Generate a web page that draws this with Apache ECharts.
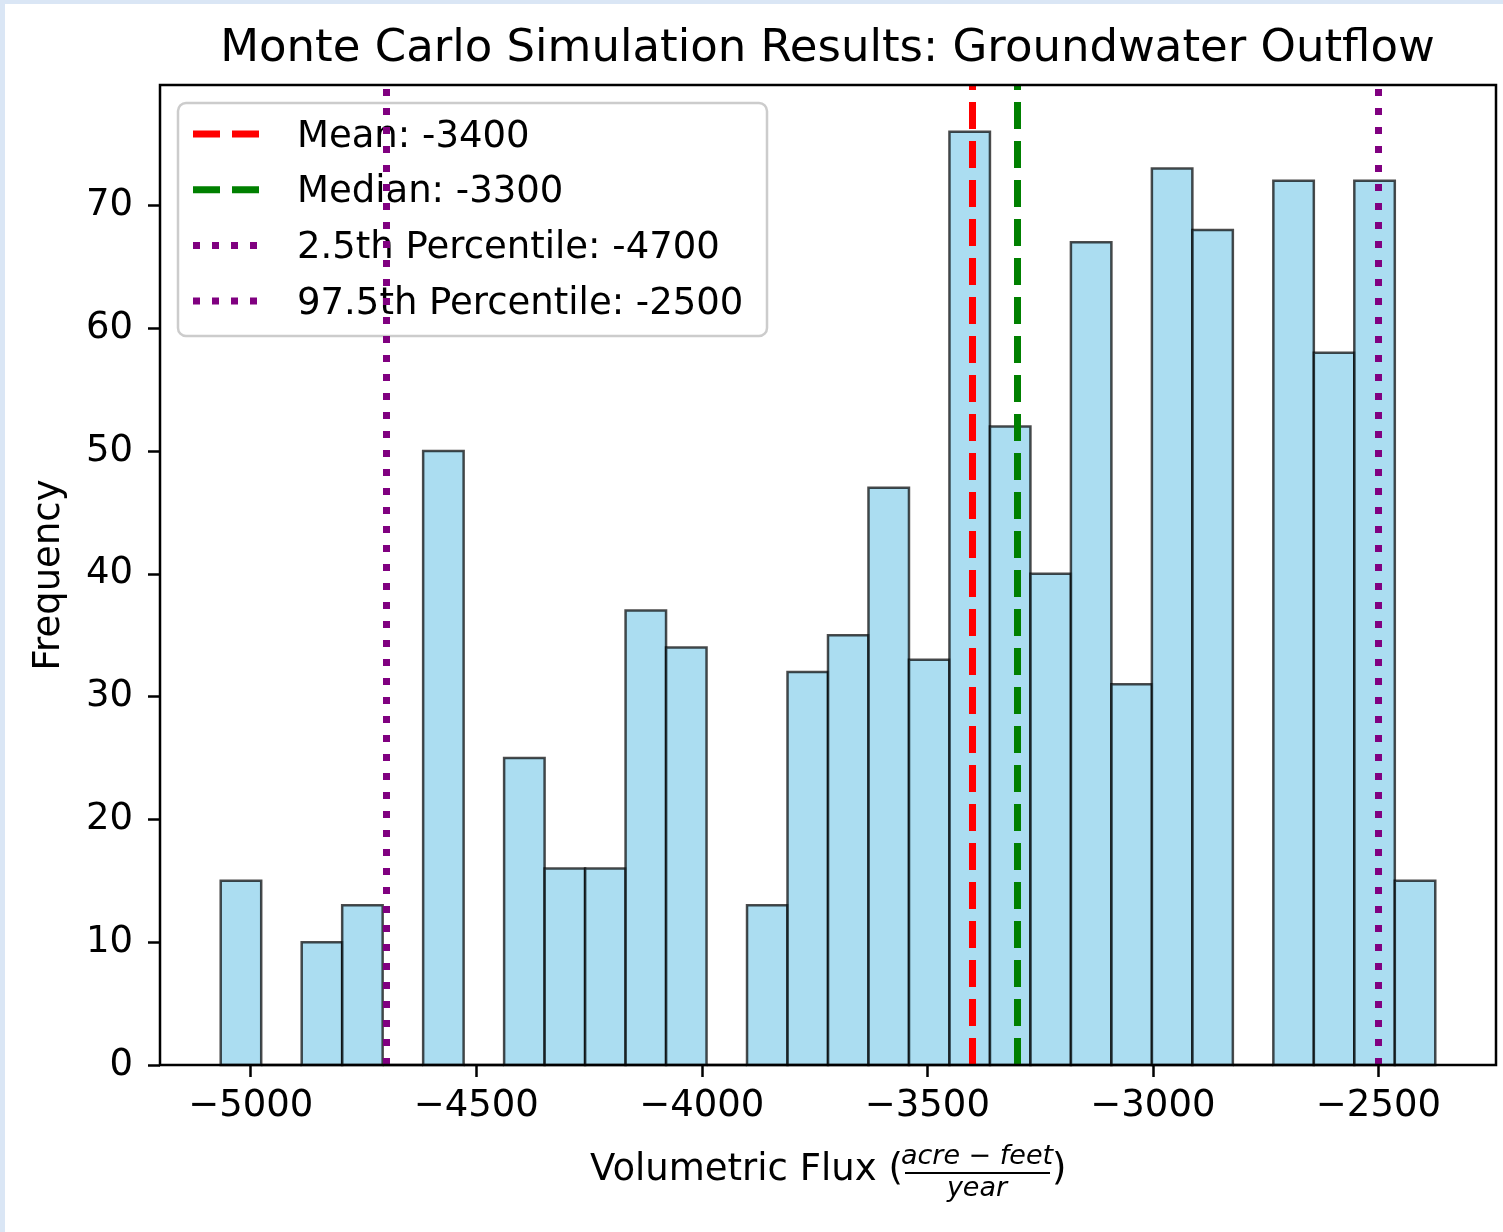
<!DOCTYPE html>
<html>
<head>
<meta charset="utf-8">
<script src="https://cdn.jsdelivr.net/npm/echarts@6/dist/echarts.min.js"></script>
<style>
html,body{margin:0;padding:0;background:#fff;}
#c{width:1503px;height:1232px;position:absolute;left:0;top:0;}
.sL{position:absolute;left:0;top:0;width:5px;height:1232px;background:#dae6f5;}
.sT{position:absolute;left:0;top:0;width:1503px;height:4px;background:#dae6f5;}
</style>
</head>
<body>
<div id="c"></div><div class="sL"></div><div class="sT"></div>
<script>
// Histogram bin edges (31) and counts (30)
const binEdges = [-5066.5,-4976.75,-4887.0,-4797.25,-4707.5,-4617.75,-4528.0,-4438.25,-4348.5,-4258.75,
  -4169.0,-4079.25,-3989.5,-3899.75,-3810.0,-3720.25,-3630.5,-3540.75,-3451.0,-3361.25,
  -3271.5,-3181.75,-3092.0,-3002.25,-2912.5,-2822.75,-2733.0,-2643.25,-2553.5,-2463.75,-2374.0];
const counts = [15,0,10,13,0,50,0,25,16,16,37,34,0,13,32,35,47,33,76,52,40,67,31,73,68,0,72,58,72,15];
const xTicks = [-5000,-4500,-4000,-3500,-3000,-2500];
const yTicks = [0,10,20,30,40,50,60,70];
const statNames = ['Mean','Median','2.5th Percentile','97.5th Percentile'];
const statValues = [-3400,-3300,-4700,-2500];

const statColors = ['#ff0000','#008000','#800080','#800080'];
const statDash = [[27,12],[27,12],[7,12],[7,12]];
const FONT = 'DejaVu Sans';

const chart = echarts.init(document.getElementById('c'), null, {renderer:'canvas'});

const lineSeries = statValues.map((v,i)=>({
  type:'line', data:[], silent:true,
  markLine:{
    silent:true, symbol:'none', animation:false,
    label:{show:false},
    lineStyle:{color:statColors[i], type:statDash[i], width:7, opacity:1},
    emphasis:{disabled:true},
    data:[{xAxis:v}]
  },
  z:5
}));

const legendChildren = [{
  type:'rect', shape:{x:0,y:0,width:589,height:233,r:8},
  style:{fill:'rgba(255,255,255,0.8)', stroke:'#cccccc', lineWidth:2.5}
}];
statNames.forEach((n,i)=>{
  const y = 31 + 55.7*i;
  legendChildren.push({type:'line', shape:{x1:15,y1:y,x2:85,y2:y},
    style:{stroke:statColors[i], lineWidth:7, lineDash:statDash[i]}});
  legendChildren.push({type:'text', x:119, y:y+3,
    style:{text:n+': '+statValues[i], font:'37px "'+FONT+'"', fill:'#000', verticalAlign:'middle', textAlign:'left'}});
});

const option = {
  animation:false,
  backgroundColor:'#ffffff',
  grid:{left:160, right:7, top:85, bottom:167, show:true, borderColor:'#000', borderWidth:2.5, backgroundColor:'transparent', z:10},
  xAxis:{
    type:'value', min:-5201.1, max:-2239.4,
    axisLine:{show:false},
    splitLine:{show:false},
    axisTick:{show:true, length:12, inside:false, lineStyle:{color:'#000', width:2.5}, customValues:xTicks},
    axisLabel:{show:true, margin:23, color:'#000', fontFamily:FONT, fontSize:37,
      customValues:xTicks, formatter:v=>String(v).replace('-','\u2212')}
  },
  yAxis:{
    type:'value', min:0, max:79.8,
    name:'Frequency', nameLocation:'middle', nameGap:92,
    nameTextStyle:{color:'#000', fontFamily:FONT, fontSize:37},
    axisLine:{show:false},
    splitLine:{show:false},
    axisTick:{show:true, length:12, inside:false, lineStyle:{color:'#000', width:2.5}, customValues:yTicks},
    axisLabel:{show:true, margin:27, color:'#000', fontFamily:FONT, fontSize:37, customValues:yTicks}
  },
  series:[{
    type:'custom',
    renderItem:(params, api)=>{
      const x0 = api.value(0), x1 = api.value(1), c = api.value(2);
      const p0 = api.coord([x0, c]);
      const p1 = api.coord([x1, 0]);
      return {type:'rect', shape:{x:p0[0], y:p0[1], width:p1[0]-p0[0], height:p1[1]-p0[1]},
        style:{fill:'rgba(135,206,235,0.7)', stroke:'rgba(0,0,0,0.7)', lineWidth:2.5}};
    },
    encode:{x:[0,1], y:2},
    data:counts.map((c,i)=>[binEdges[i], binEdges[i+1], c]),
    z:2
  }].concat(lineSeries),
  graphic:[
    {type:'text', x:827.5, y:49, z:20,
      style:{text:'Monte Carlo Simulation Results: Groundwater Outflow', font:'45px "'+FONT+'"', fill:'#000', textAlign:'center', verticalAlign:'middle'}},
    {type:'group', x:178, y:103, z:30, children:legendChildren},
    {type:'group', x:0, y:0, z:20, children:[
      {type:'text', x:590, y:1170, style:{text:'Volumetric Flux (', font:'37px "'+FONT+'"', fill:'#000', textAlign:'left', verticalAlign:'middle'}},
      {type:'text', x:977, y:1157, style:{text:'acre \u2212 feet', font:'italic 27px "'+FONT+'"', fill:'#000', textAlign:'center', verticalAlign:'middle'}},
      {type:'line', shape:{x1:905,y1:1173,x2:1050,y2:1173}, style:{stroke:'#000', lineWidth:2}},
      {type:'text', x:977, y:1189, style:{text:'year', font:'italic 27px "'+FONT+'"', fill:'#000', textAlign:'center', verticalAlign:'middle'}},
      {type:'text', x:1052, y:1170, style:{text:')', font:'37px "'+FONT+'"', fill:'#000', textAlign:'left', verticalAlign:'middle'}}
    ]}
  ]
};
chart.setOption(option);
</script>
</body>
</html>
